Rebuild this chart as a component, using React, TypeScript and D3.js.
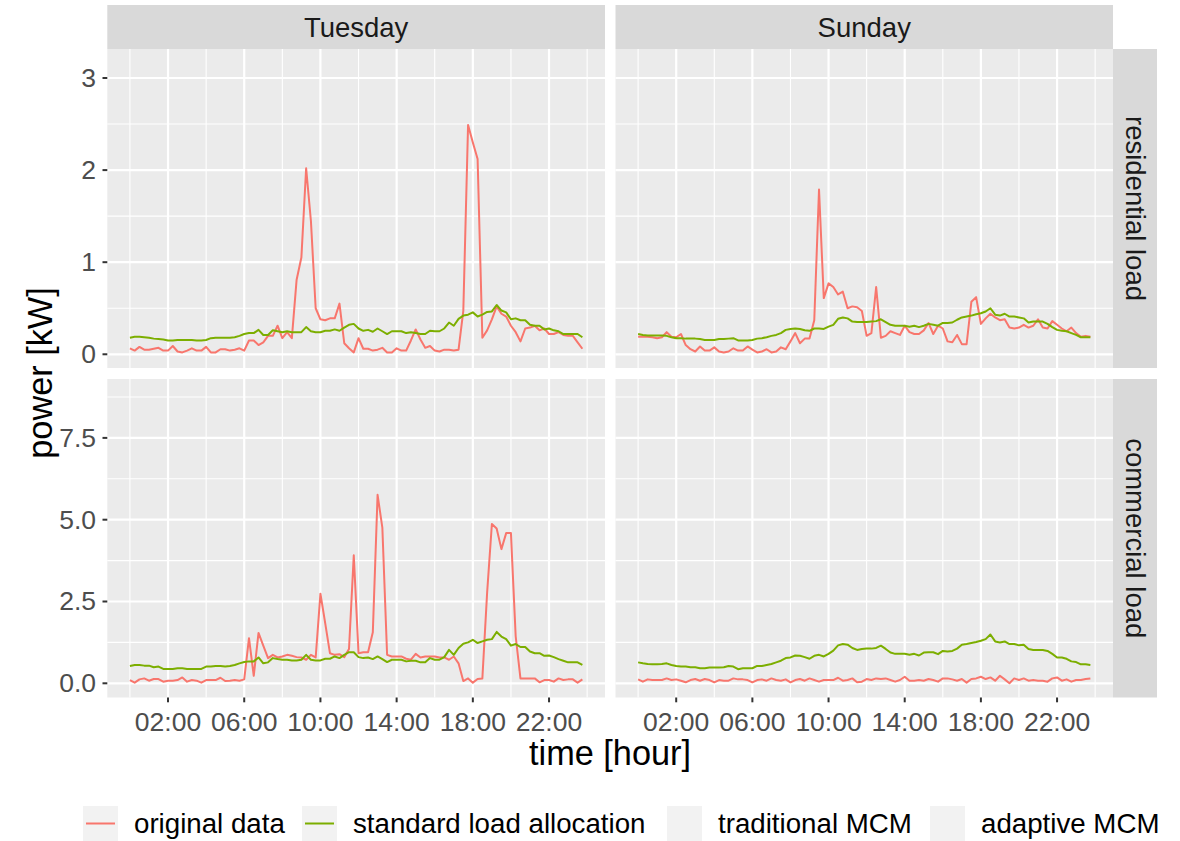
import React from "react";
import * as d3 from "d3";

// 15-minute sampling over one day (hours)
const hours: number[] = d3.range(96).map((i) => i / 4);

const dayLabels = ["Tuesday", "Sunday"];
const loadLabels = ["residential load", "commercial load"];
const seriesLabels = ["original data", "standard load allocation", "traditional MCM", "adaptive MCM"];
const seriesColors = ["#F8766D", "#7CAE00", "#00BFC4", "#C77CFF"];

const xTickHours = [2, 6, 10, 14, 18, 22];
const xTickLabels = ["02:00", "06:00", "10:00", "14:00", "18:00", "22:00"];
const xMinorHours = [0, 4, 8, 12, 16, 20, 24];

const resTicks = [0, 1, 2, 3];
const resTickLabels = ["0", "1", "2", "3"];
const resMinor = [0.5, 1.5, 2.5];
const comTicks = [0, 2.5, 5, 7.5];
const comTickLabels = ["0.0", "2.5", "5.0", "7.5"];
const comMinor = [1.25, 3.75, 6.25, 8.75];

// Tuesday, residential
const tueResOrig = [
  0.065, 0.04, 0.08, 0.05, 0.05, 0.06, 0.07, 0.04, 0.04, 0.09,
  0.03, 0.02, 0.04, 0.065, 0.04, 0.04, 0.08, 0.02, 0.02, 0.055,
  0.055, 0.04, 0.05, 0.065, 0.04, 0.15, 0.15, 0.1, 0.13, 0.2,
  0.2, 0.31, 0.175, 0.24, 0.175, 0.81, 1.05, 2.02, 1.45, 0.5,
  0.38, 0.37, 0.39, 0.39, 0.55, 0.12, 0.065, 0.02, 0.175, 0.06,
  0.06, 0.04, 0.05, 0.07, 0.02, 0.02, 0.065, 0.04, 0.04, 0.15,
  0.27, 0.16, 0.07, 0.09, 0.04, 0.03, 0.05, 0.05, 0.04, 0.05,
  0.47, 2.49, 2.3, 2.12, 0.18, 0.26, 0.38, 0.52, 0.44, 0.41,
  0.31, 0.24, 0.14, 0.28, 0.29, 0.31, 0.26, 0.28, 0.22, 0.22,
  0.24, 0.21, 0.2, 0.2, 0.13, 0.06,
];
const tueResSla = [
  0.18, 0.19, 0.19, 0.185, 0.18, 0.17, 0.165, 0.16, 0.15, 0.15,
  0.155, 0.155, 0.155, 0.155, 0.15, 0.15, 0.155, 0.175, 0.18, 0.18,
  0.18, 0.18, 0.185, 0.2, 0.22, 0.23, 0.23, 0.265, 0.21, 0.21,
  0.26, 0.25, 0.24, 0.25, 0.24, 0.24, 0.24, 0.295, 0.25, 0.24,
  0.24, 0.255, 0.255, 0.27, 0.255, 0.29, 0.32, 0.33, 0.28, 0.255,
  0.265, 0.245, 0.28, 0.25, 0.22, 0.25, 0.25, 0.25, 0.23, 0.24,
  0.23, 0.22, 0.22, 0.255, 0.25, 0.25, 0.28, 0.345, 0.31, 0.385,
  0.42, 0.43, 0.455, 0.41, 0.43, 0.46, 0.465, 0.535, 0.475, 0.455,
  0.38, 0.39, 0.37, 0.37, 0.32, 0.31, 0.31, 0.27, 0.28, 0.26,
  0.25, 0.22, 0.22, 0.22, 0.22, 0.185,
];

// Sunday, residential
const sunResOrig = [
  0.19, 0.19, 0.19, 0.185, 0.175, 0.185, 0.24, 0.19, 0.185, 0.22,
  0.1, 0.055, 0.03, 0.085, 0.04, 0.04, 0.075, 0.03, 0.02, 0.03,
  0.065, 0.04, 0.04, 0.085, 0.05, 0.02, 0.03, 0.055, 0.02, 0.03,
  0.075, 0.055, 0.14, 0.23, 0.12, 0.17, 0.17, 0.37, 1.79, 0.61,
  0.77, 0.73, 0.65, 0.68, 0.5, 0.52, 0.51, 0.47, 0.2, 0.23,
  0.73, 0.18, 0.2, 0.25, 0.23, 0.21, 0.31, 0.24, 0.22, 0.22,
  0.26, 0.34, 0.22, 0.31, 0.28, 0.14, 0.13, 0.21, 0.11, 0.11,
  0.57, 0.62, 0.33, 0.39, 0.44, 0.4, 0.37, 0.38, 0.29, 0.28,
  0.29, 0.32, 0.29, 0.31, 0.38, 0.29, 0.28, 0.36, 0.32, 0.28,
  0.25, 0.29, 0.23, 0.19, 0.2, 0.19,
];
const sunResSla = [
  0.22, 0.21, 0.205, 0.205, 0.205, 0.205, 0.2, 0.185, 0.175, 0.175,
  0.17, 0.17, 0.17, 0.165, 0.155, 0.155, 0.155, 0.165, 0.165, 0.17,
  0.175, 0.15, 0.15, 0.15, 0.155, 0.17, 0.175, 0.185, 0.2, 0.21,
  0.23, 0.265, 0.275, 0.28, 0.275, 0.26, 0.255, 0.28, 0.28, 0.275,
  0.3, 0.32, 0.385, 0.4, 0.39, 0.355, 0.35, 0.35, 0.35, 0.355,
  0.36, 0.38, 0.35, 0.32, 0.31, 0.31, 0.31, 0.3, 0.31, 0.295,
  0.31, 0.33, 0.32, 0.31, 0.34, 0.34, 0.345, 0.375, 0.4, 0.41,
  0.42, 0.435, 0.445, 0.465, 0.5, 0.43, 0.42, 0.44, 0.41, 0.41,
  0.4, 0.39, 0.345, 0.355, 0.355, 0.355, 0.33, 0.295, 0.265, 0.255,
  0.25, 0.23, 0.21, 0.185, 0.185, 0.185,
];

// Tuesday, commercial
const tueComOrig = [
  0.1, 0.02, 0.12, 0.15, 0.08, 0.13, 0.13, 0.05, 0.08, 0.08,
  0.1, 0.18, 0.05, 0.1, 0.08, 0.02, 0.1, 0.1, 0.1, 0.17,
  0.07, 0.08, 0.1, 0.08, 0.12, 1.38, 0.23, 1.54, 1.15, 0.77,
  0.87, 0.79, 0.82, 0.87, 0.84, 0.8, 0.79, 0.72, 0.87, 0.79,
  2.74, 1.84, 0.92, 0.87, 0.89, 0.8, 1.05, 3.91, 0.92, 0.95,
  0.95, 1.56, 5.76, 4.76, 0.87, 0.82, 0.82, 0.82, 0.75, 0.72,
  0.9, 0.79, 0.82, 0.82, 0.82, 0.79, 0.79, 0.72, 0.82, 0.61,
  0.07, 0.15, 0.02, 0.13, 0.15, 2.77, 4.87, 4.73, 4.1, 4.59,
  4.59, 1.43, 0.15, 0.15, 0.15, 0.15, 0.03, 0.1, 0.1, 0.05,
  0.15, 0.1, 0.12, 0.12, 0.02, 0.12,
];
const tueComSla = [
  0.53, 0.56, 0.56, 0.54, 0.54, 0.49, 0.51, 0.44, 0.44, 0.44,
  0.46, 0.46, 0.44, 0.44, 0.44, 0.44, 0.51, 0.51, 0.53, 0.53,
  0.51, 0.53, 0.56, 0.61, 0.65, 0.67, 0.67, 0.79, 0.61, 0.64,
  0.77, 0.74, 0.72, 0.72, 0.7, 0.7, 0.72, 0.87, 0.72, 0.7,
  0.7, 0.75, 0.75, 0.82, 0.77, 0.87, 0.95, 0.95, 0.8, 0.77,
  0.79, 0.74, 0.82, 0.74, 0.65, 0.72, 0.72, 0.72, 0.67, 0.69,
  0.69, 0.64, 0.64, 0.77, 0.72, 0.72, 0.8, 1.02, 0.87, 1.08,
  1.21, 1.25, 1.33, 1.23, 1.28, 1.33, 1.35, 1.57, 1.43, 1.35,
  1.15, 1.2, 1.11, 1.11, 0.97, 0.92, 0.92, 0.84, 0.85, 0.8,
  0.74, 0.69, 0.64, 0.64, 0.64, 0.56,
];

// Sunday, commercial
const sunComOrig = [
  0.12, 0.05, 0.12, 0.1, 0.1, 0.1, 0.15, 0.1, 0.12, 0.08,
  0.03, 0.1, 0.13, 0.08, 0.13, 0.1, 0.03, 0.1, 0.08, 0.08,
  0.15, 0.12, 0.12, 0.1, 0.03, 0.1, 0.12, 0.08, 0.15, 0.1,
  0.08, 0.12, 0.03, 0.1, 0.13, 0.08, 0.15, 0.1, 0.05, 0.1,
  0.1, 0.1, 0.17, 0.08, 0.1, 0.15, 0.03, 0.05, 0.13, 0.1,
  0.15, 0.13, 0.15, 0.1, 0.05, 0.1, 0.2, 0.08, 0.08, 0.1,
  0.08, 0.13, 0.1, 0.05, 0.15, 0.15, 0.12, 0.08, 0.13, 0.02,
  0.13, 0.15, 0.2, 0.13, 0.18, 0.08, 0.23, 0.12, 0.0, 0.15,
  0.1, 0.15, 0.08, 0.1, 0.08, 0.08, 0.05, 0.15, 0.18, 0.08,
  0.12, 0.05, 0.1, 0.1, 0.13, 0.15,
];
const sunComSla = [
  0.64, 0.61, 0.59, 0.58, 0.58, 0.59, 0.61, 0.56, 0.53, 0.51,
  0.51, 0.49, 0.49, 0.46, 0.46, 0.48, 0.48, 0.48, 0.49, 0.53,
  0.51, 0.43, 0.46, 0.46, 0.46, 0.53, 0.53, 0.56, 0.59, 0.64,
  0.69, 0.77, 0.79, 0.85, 0.84, 0.8, 0.75, 0.84, 0.87, 0.82,
  0.9, 1.0, 1.16, 1.2, 1.18, 1.08, 1.02, 1.05, 1.06, 1.06,
  1.08, 1.15, 1.05, 0.94, 0.9, 0.9, 0.9, 0.87, 0.9, 0.85,
  0.94, 0.95, 0.95, 0.89, 0.99, 0.97, 0.99, 1.06, 1.18, 1.2,
  1.23, 1.26, 1.3, 1.35, 1.49, 1.28, 1.25, 1.28, 1.2, 1.2,
  1.16, 1.18, 1.05, 1.02, 1.02, 1.02, 0.99, 0.9, 0.79, 0.79,
  0.75, 0.67, 0.65, 0.58, 0.58, 0.56,
];

const panelSeries = [
  [[tueResOrig, tueResSla], [sunResOrig, sunResSla]],
  [[tueComOrig, tueComSla], [sunComOrig, sunComSla]],
];

const FONT = "'Liberation Sans', Arial, Helvetica, sans-serif";

export default function App() {
  const W = 1180;
  const H = 841;
  const colX = [
    [107.3, 605],
    [615.5, 1113],
  ];
  const rowY = [
    [49, 368],
    [379, 697.5],
  ];
  const xDomain: [number, number] = [-1.1875, 24.9375];
  const yDomains: [number, number][] = [
    [-0.149, 3.315],
    [-0.434, 9.3],
  ];
  const majorY = [resTicks, comTicks];
  const majorYLabels = [resTickLabels, comTickLabels];
  const minorY = [resMinor, comMinor];

  const xScales = colX.map((r) => d3.scaleLinear().domain(xDomain).range(r));
  const yScales = rowY.map((r, k) => d3.scaleLinear().domain(yDomains[k]).range([r[1], r[0]]));

  const panels: React.ReactNode[] = [];
  rowY.forEach((ry, r) => {
    colX.forEach((cx, c) => {
      const xs = xScales[c];
      const ys = yScales[r];
      const line = d3
        .line<number>()
        .x((_, i) => xs(hours[i]))
        .y((v) => ys(v));
      panels.push(
        <g key={`p${r}${c}`}>
          <rect x={cx[0]} y={ry[0]} width={cx[1] - cx[0]} height={ry[1] - ry[0]} fill="#EBEBEB" />
          {minorY[r].map((v) => (
            <line key={`my${v}`} x1={cx[0]} x2={cx[1]} y1={ys(v)} y2={ys(v)} stroke="#fff" strokeWidth={1.1} />
          ))}
          {xMinorHours.map((h) => (
            <line key={`mx${h}`} x1={xs(h)} x2={xs(h)} y1={ry[0]} y2={ry[1]} stroke="#fff" strokeWidth={1.1} />
          ))}
          {majorY[r].map((v) => (
            <line key={`Y${v}`} x1={cx[0]} x2={cx[1]} y1={ys(v)} y2={ys(v)} stroke="#fff" strokeWidth={2.2} />
          ))}
          {xTickHours.map((h) => (
            <line key={`X${h}`} x1={xs(h)} x2={xs(h)} y1={ry[0]} y2={ry[1]} stroke="#fff" strokeWidth={2.2} />
          ))}
          {panelSeries[r][c].map((vals, s) => (
            <path key={`s${s}`} d={line(vals) || ""} fill="none" stroke={seriesColors[s]} strokeWidth={2} strokeLinejoin="round" />
          ))}
        </g>
      );
    });
  });

  // Column strips (top)
  const topStrips = dayLabels.map((lab, c) => (
    <g key={`ts${c}`}>
      <rect x={colX[c][0]} y={5} width={colX[c][1] - colX[c][0]} height={44} fill="#D9D9D9" />
      <text x={(colX[c][0] + colX[c][1]) / 2} y={27} textAnchor="middle" dominantBaseline="central" fontSize={27.5} fill="#1A1A1A" fontFamily={FONT}>
        {lab}
      </text>
    </g>
  ));

  // Row strips (right)
  const rightStrips = loadLabels.map((lab, r) => {
    const cy = (rowY[r][0] + rowY[r][1]) / 2;
    const cxm = 1135;
    return (
      <g key={`rs${r}`}>
        <rect x={1113} y={rowY[r][0]} width={44} height={rowY[r][1] - rowY[r][0]} fill="#D9D9D9" />
        <text x={cxm} y={cy} transform={`rotate(90 ${cxm} ${cy})`} textAnchor="middle" dominantBaseline="central" fontSize={27.5} fill="#1A1A1A" fontFamily={FONT}>
          {lab}
        </text>
      </g>
    );
  });

  // Y axes (left column only)
  const yAxes = rowY.map((ry, r) => (
    <g key={`ya${r}`}>
      {majorY[r].map((v, k) => (
        <g key={`yt${v}`}>
          <line x1={102.5} x2={107.3} y1={yScales[r](v)} y2={yScales[r](v)} stroke="#333" strokeWidth={2} />
          <text x={96} y={yScales[r](v)} textAnchor="end" dominantBaseline="central" fontSize={26.5} fill="#4D4D4D" fontFamily={FONT}>
            {majorYLabels[r][k]}
          </text>
        </g>
      ))}
    </g>
  ));

  // X axes (bottom row only)
  const xAxes = colX.map((cx, c) => (
    <g key={`xa${c}`}>
      {xTickHours.map((h, k) => (
        <g key={`xt${h}`}>
          <line x1={xScales[c](h)} x2={xScales[c](h)} y1={697.5} y2={702.3} stroke="#333" strokeWidth={2} />
          <text x={xScales[c](h)} y={722} textAnchor="middle" dominantBaseline="central" fontSize={26.5} fill="#4D4D4D" fontFamily={FONT}>
            {xTickLabels[k]}
          </text>
        </g>
      ))}
    </g>
  ));

  // Legend
  const legendKeyX = [83, 302, 667, 930];
  const legend = seriesLabels.map((lab, s) => (
    <g key={`lg${s}`}>
      <rect x={legendKeyX[s]} y={806} width={35} height={35} fill="#F2F2F2" />
      {s < 2 && (
        <line x1={legendKeyX[s] + 3} x2={legendKeyX[s] + 32} y1={823.5} y2={823.5} stroke={seriesColors[s]} strokeWidth={2} />
      )}
      <text x={legendKeyX[s] + 51} y={823.5} dominantBaseline="central" fontSize={27.7} fill="#000" fontFamily={FONT}>
        {lab}
      </text>
    </g>
  ));

  return (
    <svg width={W} height={H} style={{ position: "absolute", left: 0, top: 0, background: "#fff" }} fontFamily={FONT}>
      <rect x={0} y={0} width={W} height={H} fill="#fff" />
      {panels}
      {topStrips}
      {rightStrips}
      {yAxes}
      {xAxes}
      <text x={610} y={753} textAnchor="middle" dominantBaseline="central" fontSize={34.3} fill="#000" fontFamily={FONT}>
        time [hour]
      </text>
      <text x={40} y={373} transform="rotate(-90 40 373)" textAnchor="middle" dominantBaseline="central" fontSize={34.3} fill="#000" fontFamily={FONT}>
        power [kW]
      </text>
      {legend}
    </svg>
  );
}
